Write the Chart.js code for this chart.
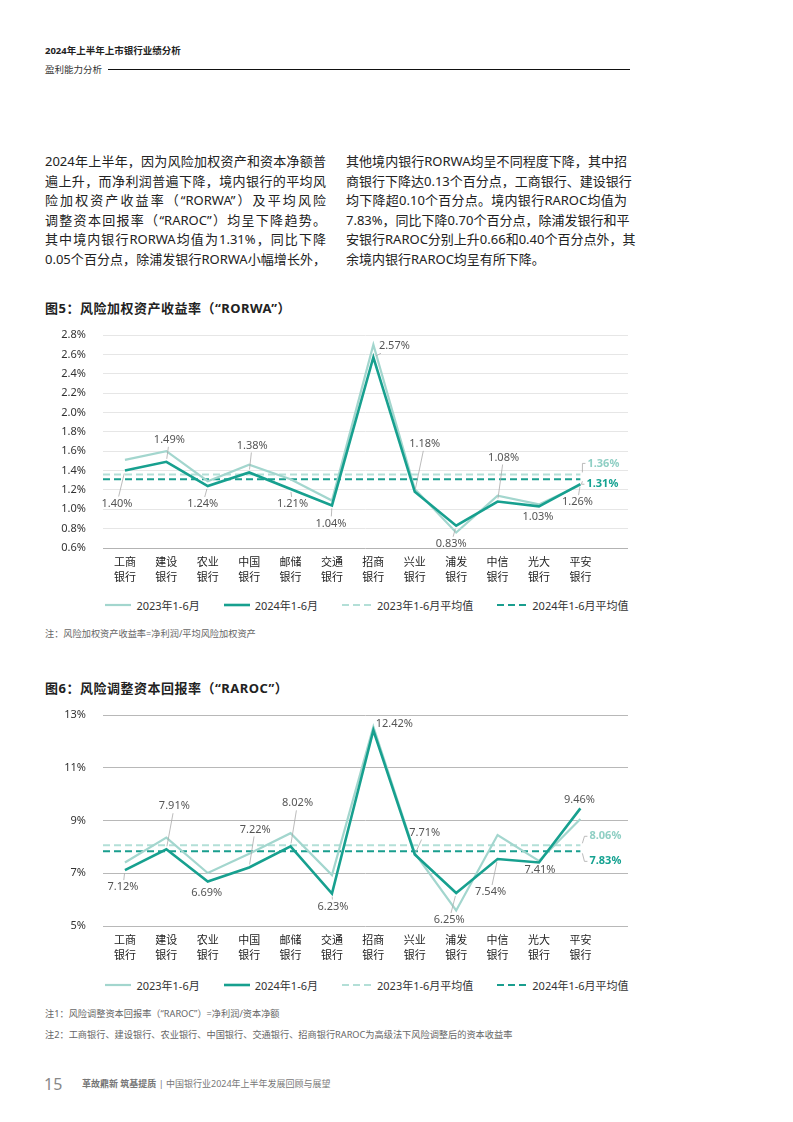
<!DOCTYPE html>
<html>
<head>
<meta charset="utf-8">
<script src="https://cdn.jsdelivr.net/npm/chart.js@4.4.1/dist/chart.umd.min.js"></script>
<style>
  body { margin: 0; background: #fff; font-family: "Noto Sans", "Noto Sans CJK SC", sans-serif; color: #222; }
  .page { position: relative; width: 793px; height: 1122px; overflow: hidden; }
  .abs { position: absolute; white-space: nowrap; }
  .col { position: absolute; width: 281px; font-size: 13px; line-height: 19.5px; color: #222; }
  .col div { text-align: justify; text-align-last: justify; white-space: nowrap; }
  .col div.last { text-align-last: left; }
  .figtitle { font-size: 13px; font-weight: bold; color: #222; letter-spacing: 0.5px; }
  .note { font-size: 9.2px; color: #666; }
  .box { position: absolute; left: 40px; width: 600px; }
  .legend { position: absolute; left: 40px; width: 654px; display: flex; justify-content: center; align-items: center;
    font-size: 11px; color: #333; height: 16px; }
  .legend .item { display: flex; align-items: center; margin: 0 12px; }
  .legend svg { margin-right: 5px; }
</style>
</head>
<body>
<div class="page">
  <div class="abs" style="left:45px; top:43px; font-size:9.5px; font-weight:bold;">2024年上半年上市银行业绩分析</div>
  <div class="abs" style="left:45px; top:62px; font-size:9.5px; color:#333;">盈利能力分析</div>
  <div class="abs" style="left:108px; top:69px; width:522px; height:1px; background:#111;"></div>

  <div class="col" style="left:45px; top:152px;">
    <div>2024年上半年，因为风险加权资产和资本净额普</div>
    <div>遍上升，而净利润普遍下降，境内银行的平均风</div>
    <div>险加权资产收益率（“RORWA”）及平均风险</div>
    <div>调整资本回报率（“RAROC”）均呈下降趋势。</div>
    <div>其中境内银行RORWA均值为1.31%，同比下降</div>
    <div>0.05个百分点，除浦发银行RORWA小幅增长外，</div>
  </div>
  <div class="col" style="left:346px; top:152px;">
    <div>其他境内银行RORWA均呈不同程度下降，其中招</div>
    <div>商银行下降达0.13个百分点，工商银行、建设银行</div>
    <div>均下降超0.10个百分点。境内银行RAROC均值为</div>
    <div>7.83%，同比下降0.70个百分点，除浦发银行和平</div>
    <div>安银行RAROC分别上升0.66和0.40个百分点外，其</div>
    <div class="last">余境内银行RAROC均呈有所下降。</div>
  </div>

  <div class="abs figtitle" style="left:45px; top:298px;">图5：风险加权资产收益率（“RORWA”）</div>
  <div class="box" style="top:325px; height:267px;"><canvas id="chartRorwa"></canvas></div>
  <div class="legend" id="legendRorwa" style="top:597px;"></div>
  <div class="abs note" style="left:45px; top:626px;">注：风险加权资产收益率=净利润/平均风险加权资产</div>

  <div class="abs figtitle" style="left:45px; top:678px;">图6：风险调整资本回报率（“RAROC”）</div>
  <div class="box" style="top:705px; height:265px;"><canvas id="chartRaroc"></canvas></div>
  <div class="legend" id="legendRaroc" style="top:977px;"></div>
  <div class="abs note" style="left:45px; top:1006px;">注1：风险调整资本回报率（“RAROC”）=净利润/资本净额</div>
  <div class="abs note" style="left:45px; top:1027px;">注2：工商银行、建设银行、农业银行、中国银行、交通银行、招商银行RAROC为高级法下风险调整后的资本收益率</div>

  <div class="abs" style="left:44px; top:1073px; font-size:16px; color:#888;">15</div>
  <div class="abs" style="left:82px; top:1077px; font-size:9px; color:#777;"><b>革故鼎新 筑基提质</b> | 中国银行业2024年上半年发展回顾与展望</div>
</div>

<script>
// Datos
const banks = ["工商银行", "建设银行", "农业银行", "中国银行", "邮储银行", "交通银行",
  "招商银行", "兴业银行", "浦发银行", "中信银行", "光大银行", "平安银行"];
const seriesNames = ["2023年1-6月", "2024年1-6月", "2023年1-6月平均值", "2024年1-6月平均值"];

const rorwa2023 = [1.51, 1.60, 1.29, 1.46, 1.31, 1.09, 2.70, 1.21, 0.76, 1.14, 1.05, 1.25];
const rorwa2024 = [1.40, 1.49, 1.24, 1.38, 1.21, 1.04, 2.57, 1.18, 0.83, 1.08, 1.03, 1.26];
const rorwaAvg = [1.36, 1.31]; // 2023, 2024
const rorwaTicks = [0.6, 0.8, 1.0, 1.2, 1.4, 1.6, 1.8, 2.0, 2.2, 2.4, 2.6, 2.8];

const raroc2023 = [7.41, 8.35, 7.01, 7.74, 8.52, 6.93, 12.55, 7.76, 5.59, 8.45, 7.47, 9.06];
const raroc2024 = [7.12, 7.91, 6.69, 7.22, 8.02, 6.23, 12.42, 7.71, 6.25, 7.54, 7.41, 9.46];
const rarocAvg = [8.06, 7.83];
const rarocTicks = [5, 7, 9, 11, 13];

// Posicion de las etiquetas respecto al punto (px)
const rorwaOffsets = [[-8, 33], [3, -22], [-5, 18], [3, -27], [2, 15], [-1, 18],
  [21, -11], [10, -48], [-5, 18], [6, -44], [-1, 10], [-3, 18]];
const rorwaAvgOffsets = [[23, -11], [22, 5]];
const rarocOffsets = [[-2, 17], [8, -43], [-1, 11], [6, -38], [7, -43], [1, 13],
  [21, -6], [10, -22], [-7, 27], [-7, 33], [1, 7], [-1, -9]];
const rarocAvgOffsets = [[25, -9], [25, 10]];

const FONT = '"Noto Sans", "Noto Sans CJK SC", sans-serif';
const LIGHT = "#a3d6ce";
const DARK = "#17a08f";
const LIGHT_DASH = "#b3dfd7";
const DARK_DASH = "#1a9e8e";
const X_MIN = -0.53;
const X_MAX = 12.15;

Chart.defaults.font.family = FONT;
Chart.defaults.color = "#333";

// Dibuja una linea guia del texto al punto
function leader(ctx, px, py, tx, ty, w) {
  const hw = w / 2 + 2, hh = 7;
  const dx = px - tx, dy = py - ty;
  if (Math.abs(dx) <= hw && Math.abs(dy) <= hh) return;
  const t = Math.min(hw / Math.abs(dx || 1e-6), hh / Math.abs(dy || 1e-6));
  const sx = tx + dx * t, sy = ty + dy * t;
  const len = Math.hypot(px - sx, py - sy);
  if (len < 5) return;
  const ex = px - (px - sx) / len * 3, ey = py - (py - sy) / len * 3;
  ctx.beginPath();
  ctx.moveTo(sx, sy);
  ctx.lineTo(ex, ey);
  ctx.stroke();
}

const labelPlugin = {
  id: "valueLabels",
  afterDatasetsDraw(chart, args, opts) {
    const ctx = chart.ctx;
    ctx.save();
    ctx.lineWidth = 0.8;
    ctx.strokeStyle = "#aaa";
    ctx.textAlign = "center";
    ctx.textBaseline = "middle";
    ctx.font = "11px " + FONT;
    const meta = chart.getDatasetMeta(1);
    opts.values.forEach((v, i) => {
      const p = meta.data[i];
      const txt = v.toFixed(2) + "%";
      const tx = p.x + opts.offsets[i][0], ty = p.y + opts.offsets[i][1];
      leader(ctx, p.x, p.y, tx, ty, ctx.measureText(txt).width);
      ctx.fillStyle = "#555";
      ctx.fillText(txt, tx, ty);
    });
    // Etiquetas de promedio
    ctx.font = "bold 11px " + FONT;
    ctx.textAlign = "left";
    [2, 3].forEach((d, k) => {
      const end = chart.getDatasetMeta(d).data[1];
      const txt = opts.avgs[k].toFixed(2) + "%";
      const lx = end.x + opts.avgOffsets[k][0] - ctx.measureText(txt).width / 2;
      const ly = end.y + opts.avgOffsets[k][1];
      ctx.beginPath();
      ctx.moveTo(end.x + 2, end.y + (ly > end.y ? 2 : -2));
      ctx.lineTo(lx - 5, ly);
      ctx.lineTo(lx - 2, ly);
      ctx.stroke();
      ctx.fillStyle = k === 0 ? "#8fcfc4" : "#15a291";
      ctx.fillText(txt, lx, ly);
    });
    ctx.restore();
  },
};

function toPoints(values) {
  return values.map((v, i) => ({ x: i, y: v }));
}

// Leyenda en HTML con muestras de linea
function crearLeyenda(id) {
  const estilos = [
    { color: LIGHT, width: 2.2, dash: "", len: 26 },
    { color: DARK, width: 2.6, dash: "", len: 26 },
    { color: LIGHT_DASH, width: 2, dash: "7 4", len: 30 },
    { color: DARK_DASH, width: 2, dash: "7 4", len: 30 },
  ];
  const cont = document.getElementById(id);
  seriesNames.forEach((name, i) => {
    const e = estilos[i];
    const item = document.createElement("div");
    item.className = "item";
    item.innerHTML = '<svg width="' + e.len + '" height="6"><line x1="0" y1="3" x2="' + e.len +
      '" y2="3" stroke="' + e.color + '" stroke-width="' + e.width + '" stroke-dasharray="' + e.dash +
      '"/></svg><span>' + name + "</span>";
    cont.appendChild(item);
  });
}

function crearGrafica(id, d2023, d2024, avgs, ticks, offsets, avgOffsets, fmt, gridFn) {
  const ctx = document.getElementById(id);
  return new Chart(ctx, {
    type: "line",
    data: {
      datasets: [
        { label: seriesNames[0], data: toPoints(d2023), borderColor: LIGHT, borderWidth: 2.2, order: 1 },
        { label: seriesNames[1], data: toPoints(d2024), borderColor: DARK, borderWidth: 2.6, order: 0 },
        { label: seriesNames[2], data: [{ x: X_MIN, y: avgs[0] }, { x: 11, y: avgs[0] }],
          borderColor: LIGHT_DASH, borderWidth: 2, borderDash: [7, 4], order: 3 },
        { label: seriesNames[3], data: [{ x: X_MIN, y: avgs[1] }, { x: 11, y: avgs[1] }],
          borderColor: DARK_DASH, borderWidth: 2, borderDash: [7, 4], order: 2 },
      ],
    },
    options: {
      responsive: true,
      maintainAspectRatio: false,
      animation: false,
      elements: { point: { radius: 0 }, line: { tension: 0, fill: false } },
      layout: { padding: { top: 10, right: 12, left: 0, bottom: 0 } },
      scales: {
        x: {
          type: "linear",
          min: X_MIN,
          max: X_MAX,
          afterBuildTicks: (s) => { s.ticks = banks.map((b, i) => ({ value: i })); },
          afterFit: (s) => { s.height = 44; },
          grid: { display: false, drawTicks: false },
          border: { display: false },
          ticks: {
            padding: 8,
            autoSkip: false,
            maxRotation: 0,
            color: "#222",
            font: { size: 11, lineHeight: 1.3 },
            callback: (v) => [banks[v].slice(0, 2), banks[v].slice(2)],
          },
        },
        y: {
          min: ticks[0],
          max: ticks[ticks.length - 1],
          afterBuildTicks: (s) => { s.ticks = ticks.map((v) => ({ value: v })); },
          afterFit: (s) => { s.width = 63; s.paddingTop = 0; s.paddingBottom = 0; },
          border: { display: false },
          grid: { drawTicks: false, color: gridFn, lineWidth: 1 },
          ticks: { padding: 17, color: "#333", font: { size: 11 }, callback: fmt },
        },
      },
      plugins: {
        tooltip: { enabled: false },
        legend: { display: false },
        valueLabels: { values: d2024, offsets, avgs, avgOffsets },
      },
    },
    plugins: [labelPlugin],
  });
}

document.addEventListener("DOMContentLoaded", () => {
  crearLeyenda("legendRorwa");
  crearLeyenda("legendRaroc");
  crearGrafica("chartRorwa", rorwa2023, rorwa2024, rorwaAvg, rorwaTicks, rorwaOffsets, rorwaAvgOffsets,
    (v) => v.toFixed(1) + "%",
    (c) => (c.tick && c.tick.value === rorwaTicks[0] ? "#b3b3b3" : "#e6e6e6"));
  crearGrafica("chartRaroc", raroc2023, raroc2024, rarocAvg, rarocTicks, rarocOffsets, rarocAvgOffsets,
    (v) => v + "%",
    () => "#b8b8b8");
});
</script>
</body>
</html>
